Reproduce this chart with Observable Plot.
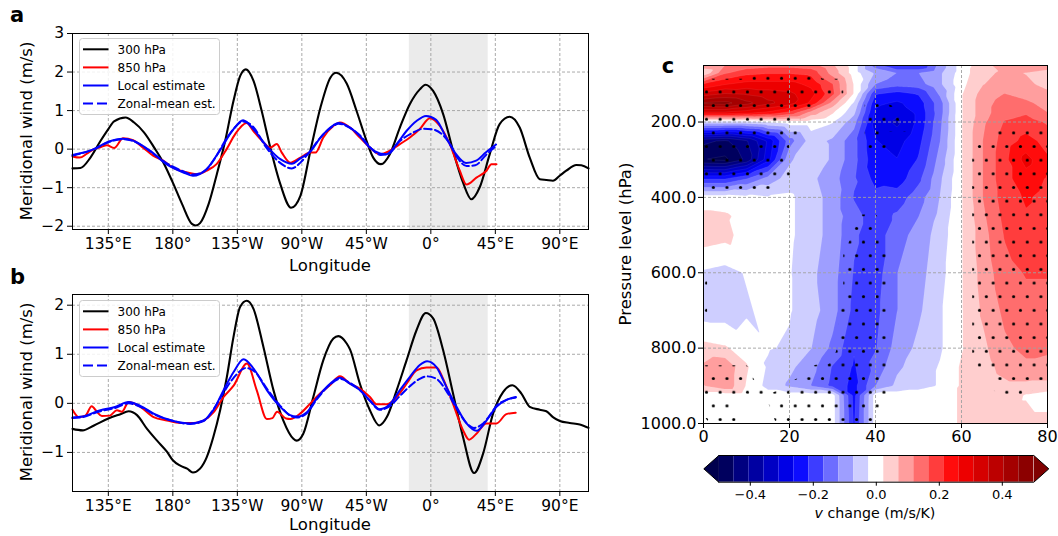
<!DOCTYPE html>
<html>
<head>
<meta charset="utf-8">
<script src="https://cdn.jsdelivr.net/npm/d3@7"></script>
<script src="https://cdn.jsdelivr.net/npm/@observablehq/plot@0.6"></script>
<style>
  html, body { margin: 0; padding: 0; background: #fff; }
  #chart { position: relative; width: 1058px; height: 536px; overflow: hidden; font-family: "DejaVu Sans", sans-serif; color: #000; }
  .t { position: absolute; white-space: nowrap; line-height: 1; transform: translate(-50%, -50%); }
  .rot { transform: translate(-50%, -50%) rotate(-90deg); }
</style>
</head>
<body>
<div id="chart"></div>
<script>
// ---------------- DATA ----------------
const lonDomain = [-250, 110];
const lonTicks = [-225, -180, -135, -90, -45, 0, 45, 90];
const lonTickLabels = ["135°E", "180°", "135°W", "90°W", "45°W", "0°", "45°E", "90°E"];
const shadeLon = [-15, 40];
const seriesNames = ["300 hPa", "850 hPa", "Local estimate", "Zonal-mean est."];
const aTicks = [-2, -1, 0, 1, 2, 3];
const bTicks = [-1, 0, 1, 2];

// panel a : [longitude, meridional wind m/s]
const a300 = [[-250,-0.5],[-244.5,-0.49],[-237.5,-0.22],[-230.5,0.21],[-225,0.52],[-221,0.72],[-213,0.82],[-207,0.69],[-200,0.43],[-193,0.04],[-186,-0.39],[-180,-0.87],[-173.6,-1.42],[-166.7,-1.94],[-164,-1.98],[-161,-1.92],[-155,-1.42],[-149.3,-0.65],[-143.5,0.21],[-137.7,1.25],[-133,1.9],[-129,2.07],[-123.7,1.77],[-118,0.99],[-112,0.04],[-105,-0.91],[-97.5,-1.52],[-91,-1.21],[-84,-0.04],[-77,1.08],[-70,1.86],[-66,1.98],[-58.7,1.7],[-51.8,0.99],[-44.8,0.21],[-40.2,-0.22],[-34.8,-0.39],[-28.6,-0.13],[-21.6,0.56],[-14.6,1.17],[-7.7,1.55],[-3.7,1.67],[1.6,1.51],[8.6,0.91],[15.5,-0.04],[22.5,-0.87],[28.3,-1.3],[34.1,-0.99],[41.1,-0.13],[48,0.65],[55,0.84],[62,0.56],[69,-0.22],[76,-0.78],[80.6,-0.8],[85.2,-0.82],[89.9,-0.69],[94.5,-0.56],[101.5,-0.41],[105,-0.42],[110,-0.5]];
const a850 = [[-250,-0.19],[-245,-0.22],[-240,-0.12],[-235,0.0],[-230.5,0.05],[-226,0.1],[-221,0.03],[-214.7,0.28],[-207.7,0.23],[-200.8,0.04],[-193.8,-0.17],[-186.8,-0.3],[-179.9,-0.48],[-170.4,-0.6],[-163.5,-0.65],[-156.5,-0.56],[-149.5,-0.39],[-142.5,0.0],[-136.5,0.39],[-128.5,0.68],[-123.8,0.47],[-117.9,0.22],[-112.1,0.04],[-107.5,0.13],[-104,-0.09],[-98,-0.35],[-91,-0.22],[-84,-0.09],[-80.5,-0.09],[-75,0.3],[-68,0.6],[-63.4,0.69],[-56.4,0.56],[-49.5,0.3],[-42.5,0.04],[-35.5,-0.13],[-28.6,-0.04],[-21.6,0.13],[-14.6,0.3],[-7.7,0.52],[-0.7,0.8],[6.3,0.6],[13.2,0.13],[20.2,-0.56],[24.9,-0.92],[31.8,-0.74],[38.8,-0.56],[42.3,-0.39],[45.8,-0.39]];
const aLocal = [[-250,-0.15],[-235,0.0],[-225,0.19],[-214.7,0.27],[-207.7,0.22],[-196,-0.04],[-184.5,-0.39],[-173,-0.6],[-166,-0.69],[-156.5,-0.52],[-147.3,-0.04],[-138,0.5],[-131,0.75],[-123.8,0.52],[-114.5,0.08],[-105,-0.26],[-97,-0.38],[-91,-0.24],[-84,-0.06],[-77,0.3],[-68,0.62],[-64.5,0.68],[-56.4,0.56],[-49.5,0.34],[-42.5,0.04],[-35.5,-0.11],[-31,-0.13],[-24,0.12],[-17,0.47],[-10,0.73],[-3.3,0.86],[3.7,0.76],[10.7,0.3],[17.6,-0.13],[24.6,-0.36],[31.6,-0.3],[38.5,-0.08],[45.5,0.12]];
const aZonal = [[-250,-0.17],[-235,0.0],[-225,0.18],[-214.7,0.26],[-207.7,0.21],[-196,-0.05],[-184.5,-0.36],[-173,-0.57],[-166,-0.66],[-158,-0.57],[-150,-0.2],[-143,0.25],[-137,0.55],[-131,0.72],[-124,0.58],[-115,0.05],[-106,-0.33],[-97,-0.5],[-91,-0.35],[-84,-0.04],[-77,0.3],[-68,0.6],[-64.5,0.66],[-56.4,0.55],[-49.5,0.36],[-42.5,0.05],[-35,-0.15],[-30,-0.13],[-21.6,0.21],[-12.3,0.43],[-5,0.53],[1.6,0.51],[8,0.38],[13,0.15],[19,-0.25],[25,-0.44],[31,-0.42],[38.5,-0.15],[45.5,0.08]];

// panel b
const b300 = [[-250,-0.52],[-243,-0.55],[-235,-0.45],[-225,-0.31],[-216.6,-0.22],[-210.8,-0.16],[-205,-0.24],[-198,-0.52],[-191,-0.76],[-184,-0.99],[-180,-1.16],[-174.8,-1.27],[-170,-1.33],[-166,-1.41],[-161,-1.33],[-156.4,-1.1],[-151.8,-0.69],[-147,-0.14],[-142.3,0.54],[-137.7,1.35],[-133,1.97],[-128.4,2.09],[-123.8,1.93],[-116.8,1.15],[-109.8,0.27],[-102.9,-0.35],[-95.9,-0.72],[-93.6,-0.76],[-89,-0.62],[-82,0.13],[-75,0.88],[-68,1.32],[-64.5,1.37],[-58.7,1.22],[-56.4,1.1],[-49.5,0.4],[-42.5,-0.14],[-36,-0.45],[-30.7,-0.28],[-23.8,0.27],[-16.9,0.88],[-10,1.49],[-3.5,1.84],[1.6,1.73],[8.6,1.08],[15.5,0.2],[22.5,-0.69],[30.2,-1.42],[36.4,-1.03],[43.4,-0.21],[50.4,0.23],[56.9,0.37],[63.2,0.2],[69,-0.07],[76,-0.13],[80.6,-0.16],[85.2,-0.28],[90,-0.36],[96.9,-0.4],[103.9,-0.43],[110,-0.5]];
const b850 = [[-250,-0.13],[-245.6,-0.28],[-241,-0.25],[-236.6,-0.06],[-233,-0.17],[-229.5,-0.26],[-224,-0.25],[-219,-0.14],[-215.5,-0.17],[-210.8,0.03],[-202.7,-0.07],[-193.4,-0.28],[-184,-0.35],[-174.8,-0.4],[-165.5,-0.4],[-158.5,-0.35],[-151.5,-0.18],[-144.6,0.13],[-137.6,0.36],[-128.3,0.81],[-121.5,0.27],[-114.4,-0.32],[-110.5,-0.3],[-107.3,-0.17],[-101,-0.31],[-98,-0.32],[-91.2,-0.21],[-84.3,-0.01],[-77.3,0.2],[-70.4,0.37],[-63.4,0.55],[-56.4,0.4],[-49.5,0.3],[-42.5,0.13],[-37.8,-0.02],[-30.8,-0.02],[-23.8,0.13],[-16.9,0.4],[-10,0.67],[-3,0.73],[4,0.73],[8.6,0.5],[15.5,-0.01],[22.5,-0.55],[26.7,-0.74],[31.8,-0.62],[38.8,-0.41],[45.8,-0.41],[52.7,-0.22],[59.2,-0.19]];
const bLocal = [[-250,-0.29],[-243,-0.27],[-230.5,-0.14],[-221,-0.08],[-210.8,0.03],[-202.7,-0.05],[-193.4,-0.21],[-179.7,-0.36],[-168,-0.41],[-158.6,-0.35],[-151.6,-0.13],[-144.6,0.27],[-137.6,0.64],[-130.6,0.9],[-123.7,0.71],[-114.4,0.27],[-105.1,-0.07],[-98.2,-0.24],[-93.5,-0.27],[-86.5,-0.18],[-79.6,0.1],[-70.3,0.4],[-63.4,0.52],[-56.4,0.4],[-49.5,0.27],[-42.5,0.06],[-35.6,-0.12],[-28.6,-0.02],[-21.6,0.27],[-14.6,0.54],[-7.7,0.78],[-2.6,0.86],[3.9,0.74],[10.9,0.33],[17.9,-0.07],[24.9,-0.41],[31.9,-0.56],[38.8,-0.35],[45.8,-0.07],[52.8,0.07],[59.3,0.13]];
const bZonal = [[-250,-0.3],[-243,-0.28],[-230.5,-0.16],[-221,-0.1],[-210.8,0.0],[-202.7,-0.07],[-193.4,-0.22],[-179.7,-0.36],[-168,-0.42],[-158.6,-0.36],[-151.6,-0.12],[-144.6,0.22],[-137.6,0.52],[-129,0.72],[-123,0.65],[-114.4,0.3],[-105.1,-0.05],[-98.2,-0.25],[-93.5,-0.29],[-86.5,-0.2],[-79.6,0.08],[-70.3,0.38],[-63.4,0.5],[-56.4,0.42],[-49.5,0.27],[-42.5,0.05],[-35.6,-0.13],[-28.6,-0.06],[-21.6,0.15],[-14.6,0.35],[-7.7,0.5],[-2.6,0.55],[3.9,0.5],[10.9,0.25],[17.9,-0.1],[24.9,-0.4],[30,-0.5],[36,-0.42],[41,-0.25],[45.8,-0.05],[52.8,0.07],[59.3,0.12]];

// panel c : latitude x pressure grid of v change (m/s/K)
const cLat = [0, 5, 10, 15, 20, 25, 30, 35, 40, 45, 50, 55, 60, 65, 70, 75, 80];
const cPres = [50, 70, 100, 125, 150, 175, 200, 250, 300, 350, 400, 450, 500, 600, 700, 800, 850, 900, 925, 1000];
const vChange = [
  [0.10,0.12,0.14,0.15,0.15,0.14,0.08,0.00,-0.14,-0.22,-0.22,-0.10,0.00,0.05,0.10,0.12,0.10],
  [0.03,0.16,0.20,0.21,0.21,0.20,0.10,0.00,-0.08,-0.12,-0.12,-0.08,0.00,0.06,0.08,0.07,0.05],
  [0.22,0.26,0.28,0.28,0.28,0.25,0.17,0.02,-0.12,-0.15,-0.14,-0.08,0.01,0.07,0.09,0.08,0.06],
  [0.33,0.36,0.35,0.33,0.32,0.28,0.18,0.02,-0.21,-0.23,-0.21,-0.11,0.02,0.09,0.12,0.10,0.08],
  [0.46,0.47,0.42,0.37,0.33,0.25,0.10,-0.03,-0.25,-0.27,-0.24,-0.14,0.02,0.10,0.14,0.13,0.10],
  [0.30,0.30,0.28,0.25,0.20,0.10,0.03,-0.06,-0.27,-0.30,-0.25,-0.14,0.02,0.10,0.15,0.16,0.12],
  [-0.04,-0.04,-0.04,-0.02,0.00,0.00,-0.02,-0.10,-0.28,-0.32,-0.25,-0.13,0.02,0.11,0.17,0.19,0.16],
  [-0.44,-0.46,-0.41,-0.30,-0.14,-0.05,-0.08,-0.15,-0.26,-0.28,-0.23,-0.12,0.02,0.12,0.19,0.23,0.20],
  [-0.50,-0.51,-0.44,-0.28,-0.08,-0.03,-0.08,-0.15,-0.25,-0.26,-0.21,-0.10,0.02,0.12,0.20,0.28,0.22],
  [-0.22,-0.22,-0.17,-0.10,-0.05,-0.06,-0.10,-0.16,-0.23,-0.24,-0.18,-0.08,0.02,0.12,0.20,0.24,0.21],
  [0.00,0.00,-0.01,-0.02,-0.015,-0.05,-0.09,-0.17,-0.20,-0.19,-0.14,-0.07,0.02,0.12,0.19,0.22,0.20],
  [0.035,0.03,0.01,-0.01,-0.015,-0.05,-0.09,-0.15,-0.19,-0.16,-0.12,-0.06,0.02,0.11,0.18,0.21,0.20],
  [0.05,0.04,0.00,-0.01,-0.015,-0.05,-0.09,-0.16,-0.19,-0.14,-0.10,-0.05,0.02,0.10,0.17,0.20,0.19],
  [-0.03,-0.04,-0.02,-0.01,-0.02,-0.06,-0.10,-0.17,-0.19,-0.12,-0.09,-0.04,0.02,0.09,0.15,0.17,0.17],
  [-0.05,-0.05,-0.03,-0.01,-0.02,-0.05,-0.10,-0.18,-0.18,-0.12,-0.08,-0.03,0.02,0.08,0.13,0.15,0.15],
  [0.04,0.03,0.00,-0.02,-0.03,-0.07,-0.13,-0.21,-0.17,-0.10,-0.06,-0.03,0.02,0.06,0.11,0.13,0.13],
  [0.08,0.11,0.03,-0.03,-0.06,-0.10,-0.17,-0.22,-0.15,-0.08,-0.05,-0.02,0.03,0.05,0.09,0.11,0.10],
  [0.07,0.11,0.02,-0.04,-0.08,-0.12,-0.18,-0.23,-0.12,-0.06,-0.04,-0.02,0.03,0.04,0.06,0.06,0.06],
  [0.00,0.00,0.00,0.00,0.00,0.00,0.00,-0.23,0.00,0.00,0.00,0.00,0.03,0.04,0.05,0.02,0.00],
  [0.00,0.00,0.00,0.00,0.00,0.00,0.00,-0.22,0.00,0.00,0.00,0.00,0.03,0.04,0.04,0.04,0.04]
];
// significance (stippled where > 0.5)
const signif = [
  [0,0,0,0,0,0,0,0,0,0,0,0,0,0,0,0,0],
  [0,0,0,0.7,0.7,0.7,0,0,0,0,0,0,0,0,0,0,0],
  [1,1,1,1,1,1,1,0,0,0,0,0,0,0,0,0,0],
  [1,1,1,1,1,1,1,0,0,0,0,0,0,0,0,0,0],
  [1,1,1,1,1,1,0,0,1,0,0,0,0,0,0,0,0],
  [1,1,1,1,1,0,0,0,1,1,0,0,0,0,0,0,0],
  [1,1,1,1,1,0,0,0,1,1,0,0,0,0,0.45,0.45,0.45],
  [1,1,1,1,1,0,0,0,1,0,0,0,0,0.6,1,1,1],
  [1,1,1,1,0.6,0,0,0,0,0,0,0,0,1,1,1,1],
  [1,1,1,1,0.5,0,0,0,0,0,0,0,0,1,1,1,1],
  [0.3,0.3,0.3,0.3,0,0,0,0,0,0,0,0,0,1,1,1,1],
  [0,0,0,0,0,0,0,0.55,0.55,0,0,0,0,1,1,1,1],
  [0,0,0,0,0,0,0,0.55,0.55,0,0,0,0,1,1,1,1],
  [0.6,0,0,0,0,0,0,1,1,0,0,0,0,1,1,1,1],
  [0.6,0,0,0,0,0,0.3,1,1,0,0,0,0,1,1,1,1],
  [0,0,0,0,0,0,0.4,1,1,0,0,0,0,1,1,1,1],
  [0.55,0.55,0.55,0,0,0.55,0.6,1,1,0,0,0,0,1,1,1,1],
  [1,1,1,0,0.6,1,1,1,1,0,0,0,0,0,1,1,0],
  [1,1,0.4,0.6,1,1,1,1,1,0,0,0,0,0,0.6,0.6,0],
  [0.3,1,0,0.2,1,1,1,1,0.6,0,0,0,0,0,0,0,0]
];
const latTicks = [0, 20, 40, 60, 80];
const presTicks = [200, 400, 600, 800, 1000];
const cbTicks = [-0.4, -0.2, 0, 0.2, 0.4];
const nBands = 21;
const levels = d3.range(nBands + 1).map(i => -0.5 + i / nBands);

// ---------------- STYLE ----------------
const FONT = "DejaVu Sans";
const GRID = "#a0a0a0";
const seismic = d3.piecewise(d3.interpolateRgb, ["#00004d", "#0000ff", "#ffffff", "#ff0000", "#800000"]);
const bandColors = [seismic(0), ...d3.range(nBands).map(i => seismic((i + 0.5) / nBands)), seismic(1)];
const chart = document.getElementById("chart");

function place(node, left, top) {
  node.style.position = "absolute";
  node.style.left = left + "px";
  node.style.top = top + "px";
  chart.appendChild(node);
  return node;
}
function label(html, x, y, size, opts = {}) {
  const d = document.createElement("div");
  d.className = "t" + (opts.rotate ? " rot" : "");
  d.style.left = x + "px";
  d.style.top = y + "px";
  d.style.fontSize = size + "px";
  if (opts.bold) d.style.fontWeight = "bold";
  d.innerHTML = html;
  chart.appendChild(d);
}
const gridOpts = {stroke: GRID, strokeOpacity: 1, strokeWidth: 0.9, strokeDasharray: "3,2"};
const intFmt = d3.format("d");

function linePanel(series, yDomain, yTicks, H, mt, mb) {
  const [s300, s850, sLoc, sZon] = series;
  const X = d => d[0], Y = d => d[1];
  return Plot.plot({
    width: 600, height: H,
    marginLeft: 72, marginRight: 12, marginTop: mt, marginBottom: mb,
    style: {fontFamily: FONT, fontSize: "15.5px", color: "#000", background: "transparent", overflow: "visible"},
    x: {domain: lonDomain, ticks: lonTicks, tickFormat: d => lonTickLabels[lonTicks.indexOf(d)], tickSize: 5, tickPadding: 3, label: null},
    y: {domain: yDomain, ticks: yTicks, tickFormat: intFmt, tickSize: 5, tickPadding: 3.5, label: null},
    marks: [
      Plot.rect([shadeLon], {x1: d => d[0], x2: d => d[1], fill: "#ebebeb"}),
      Plot.gridX(lonTicks, gridOpts),
      Plot.gridY(yTicks, gridOpts),
      Plot.line(s300, {x: X, y: Y, stroke: "#000", strokeWidth: 2.1, curve: "monotone-x"}),
      Plot.line(s850, {x: X, y: Y, stroke: "#ff0000", strokeWidth: 2, curve: "monotone-x"}),
      Plot.line(sLoc, {x: X, y: Y, stroke: "#0000ff", strokeWidth: 2, curve: "monotone-x"}),
      Plot.line(sZon, {x: X, y: Y, stroke: "#0000ff", strokeWidth: 2, strokeDasharray: "7.5,3.5", curve: "monotone-x"}),
      Plot.frame({stroke: "#000", strokeWidth: 1})
    ]
  });
}

function legend(left, top) {
  const styles = [["#000", ""], ["#ff0000", ""], ["#0000ff", ""], ["#0000ff", "10,4"]];
  let s = `<svg width="142" height="78" style="position:absolute;left:${left}px;top:${top}px;overflow:visible" font-family="${FONT}" font-size="12">`;
  s += `<rect x="0.5" y="0.5" width="140" height="76" rx="3" fill="#fff" fill-opacity="0.85" stroke="#cccccc"/>`;
  seriesNames.forEach((name, i) => {
    const y = 11.3 + i * 18.1;
    const [c, dash] = styles[i];
    s += `<line x1="4" x2="29.5" y1="${y}" y2="${y}" stroke="${c}" stroke-width="2"${dash ? ` stroke-dasharray="${dash}"` : ""}/>`;
    s += `<text x="38.5" y="${y}" dy="0.36em" fill="#000">${name}</text>`;
  });
  s += `</svg>`;
  const wrap = document.createElement("div");
  wrap.innerHTML = s;
  chart.appendChild(wrap.firstChild);
}

// ---------------- PANEL A ----------------
const svgA = linePanel([a300, a850, aLocal, aZonal], [-2.085, 3.0], aTicks, 280, 33, 51);
place(svgA, 0, 0);
legend(79, 38);
label("a", 17, 15, 21, {bold: true});
label("Meridional wind (m/s)", 26.5, 131, 16.5, {rotate: true});
label("Longitude", 330, 266, 16.5);

// ---------------- PANEL B ----------------
const svgB = linePanel([b300, b850, bLocal, bZonal], [-1.796, 2.218], bTicks, 274, 32, 45);
place(svgB, 0, 262);
legend(79, 300);
label("b", 17.5, 277, 21, {bold: true});
label("Meridional wind (m/s)", 26.5, 392, 16.5, {rotate: true});
label("Longitude", 330, 524.5, 16.5);

// ---------------- PANEL C ----------------
const cells = [];
cPres.forEach((p, i) => cLat.forEach((lat, j) => cells.push({lat, p, v: vChange[i][j], s: signif[i][j]})));

const svgC = Plot.plot({
  width: 448, height: 415,
  marginLeft: 93, marginRight: 11, marginTop: 25, marginBottom: 32,
  style: {fontFamily: FONT, fontSize: "16px", color: "#000", background: "transparent", overflow: "visible"},
  x: {domain: [0, 80], ticks: latTicks, tickSize: 5, tickPadding: 2.5, label: null},
  y: {domain: [50, 1000], reverse: true, ticks: presTicks, tickFormat: d => d.toFixed(1), tickSize: 5, tickPadding: 2, label: null},
  color: {type: "threshold", domain: levels, range: bandColors},
  marks: [
    Plot.frame({fill: bandColors[0], stroke: "none"}),
    Plot.contour(cells, {x: "lat", y: "p", fill: "v", interpolate: "barycentric", thresholds: levels, pixelSize: 1, stroke: "#ffffff", strokeOpacity: 0.12, strokeWidth: 0.6}),
    Plot.contour(cells, {x: "lat", y: "p", value: "s", interpolate: "barycentric", thresholds: [0.5], pixelSize: 1, fill: "url(#dots)", stroke: "none"}),
    Plot.gridX(latTicks.slice(1, -1), gridOpts),
    Plot.gridY(presTicks.slice(0, -1), gridOpts),
    Plot.frame({stroke: "#000", strokeWidth: 1})
  ]
});
place(svgC, 610, 40);
// dot hatch pattern (aligned to page grid)
{
  const defs = d3.select(svgC).insert("defs", ":first-child");
  const pat = defs.append("pattern").attr("id", "dots").attr("patternUnits", "userSpaceOnUse")
    .attr("x", 706 - 610 - 3.4).attr("y", 146 - 40 - 3.4).attr("width", 13.65).attr("height", 27.3);
  pat.append("circle").attr("cx", 3.4).attr("cy", 3.4).attr("r", 1.55).attr("fill", "#000");
  pat.append("circle").attr("cx", 3.4 + 6.825).attr("cy", 3.4 + 13.65).attr("r", 1.55).attr("fill", "#000");
}
label("c", 668, 66, 21, {bold: true});
label("Pressure level (hPa)", 626, 244, 16.5, {rotate: true});

// ---------------- COLORBAR ----------------
const step = 1 / nBands;
const bands = d3.range(nBands).map(i => ({lo: levels[i], hi: levels[i + 1]}));
const lo = levels[0], hi = levels[nBands];
const leftTri = [{x: lo, y: 0}, {x: lo - step, y: 0.5}, {x: lo, y: 1}];
const rightTri = [{x: hi, y: 0}, {x: hi + step, y: 0.5}, {x: hi, y: 1}];
const outline = [{x: lo, y: 0}, {x: lo - step, y: 0.5}, {x: lo, y: 1}, {x: hi, y: 1}, {x: hi + step, y: 0.5}, {x: hi, y: 0}, {x: lo, y: 0}];
const svgCB = Plot.plot({
  width: 368, height: 85,
  marginLeft: 13.3, marginRight: 9.7, marginTop: 7, marginBottom: 51.3,
  style: {fontFamily: FONT, fontSize: "13px", color: "#000", background: "transparent", overflow: "visible"},
  x: {domain: [lo - step, hi + step], ticks: cbTicks, tickFormat: ".1f", tickSize: 4, tickPadding: 3.5, label: null},
  y: {domain: [0, 1], axis: null},
  color: {type: "threshold", domain: levels, range: bandColors},
  marks: [
    Plot.rect(bands, {x1: "lo", x2: "hi", fill: "lo"}),
    Plot.line(leftTri, {x: "x", y: "y", fill: bandColors[0], stroke: "none"}),
    Plot.line(rightTri, {x: "x", y: "y", fill: bandColors[nBands + 1], stroke: "none"}),
    Plot.line(outline, {x: "x", y: "y", stroke: "#000", strokeWidth: 1, fill: "none"})
  ]
});
place(svgCB, 690, 448);
label("<i>v</i> change (m/s/K)", 875, 513, 14.2);
</script>
</body>
</html>
